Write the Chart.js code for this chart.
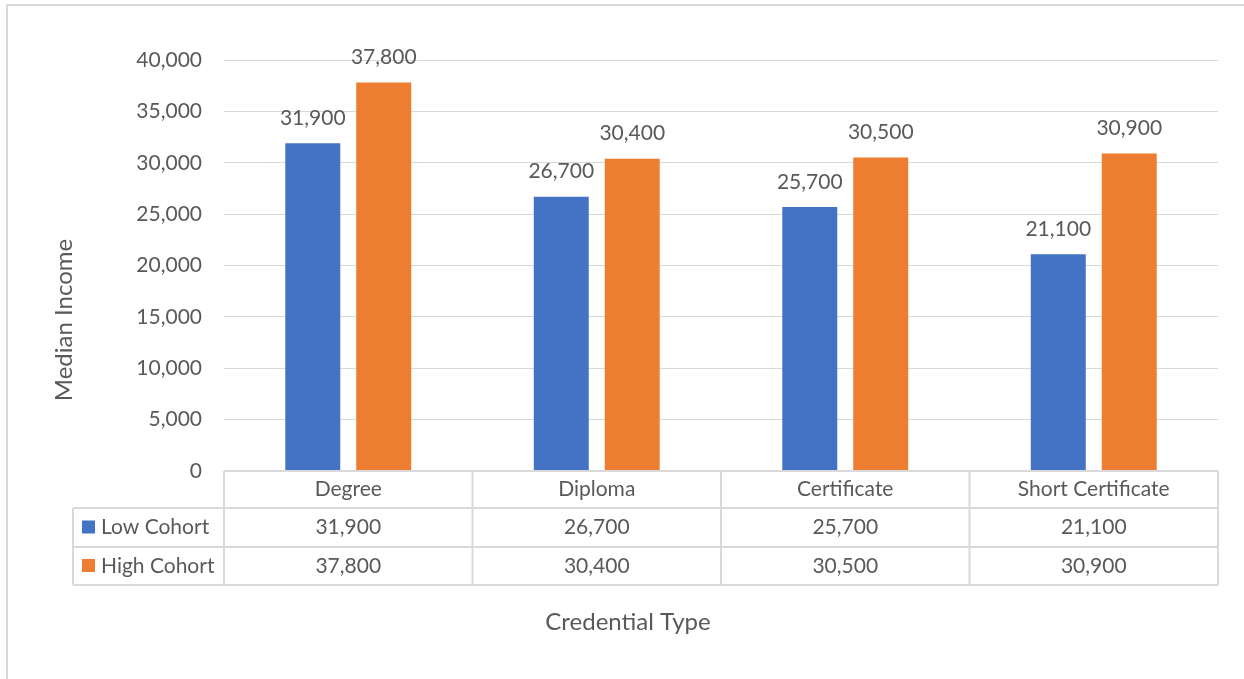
<!DOCTYPE html>
<html>
<head>
<meta charset="utf-8">
<script src="https://cdn.jsdelivr.net/npm/chart.js@4.4.1/dist/chart.umd.min.js"></script>
<style>
  html, body { margin: 0; padding: 0; background: #ffffff; }
  #wrap { width: 1244px; height: 679px; position: relative; }
</style>
</head>
<body>
<div id="wrap"><canvas id="chart" width="1244" height="679"></canvas></div>
<script>
// Median income by credential type for two cohorts
const categories = ['Degree', 'Diploma', 'Certificate', 'Short Certificate'];
const seriesNames = ['Low Cohort', 'High Cohort'];
const lowCohort = [31900, 26700, 25700, 21100];
const highCohort = [37800, 30400, 30500, 30900];
const yTickMin = 0;
const yTickMax = 40000;
const yTickStep = 5000;
const xTitle = 'Credential Type';
const yTitle = 'Median Income';

const seriesColors = ['#4472C4', '#ED7D31'];
const textColor = '#595959';
const lineColor = '#d9d9d9';
const fontFamily = 'Lato, "Open Sans", sans-serif';
const fontSize = 21;
const titleSize = 24;

const fmt = v => v.toLocaleString('en-US');

// Value labels above each bar
const valueLabels = {
  id: 'valueLabels',
  afterDatasetsDraw(chart) {
    const ctx = chart.ctx;
    ctx.save();
    ctx.font = fontSize + 'px ' + fontFamily;
    ctx.fillStyle = textColor;
    ctx.textAlign = 'center';
    ctx.textBaseline = 'middle';
    chart.data.datasets.forEach((ds, di) => {
      chart.getDatasetMeta(di).data.forEach((bar, i) => {
        ctx.fillText(fmt(ds.data[i]), bar.x, bar.y - 25);
      });
    });
    ctx.restore();
  }
};

// Data table under the plot: grid, legend keys, values, plus axis titles and frame
const dataTable = {
  id: 'dataTable',
  beforeDraw(chart) {
    const ctx = chart.ctx;
    ctx.save();
    ctx.strokeStyle = lineColor;
    ctx.lineWidth = 2;
    ctx.strokeRect(7, 5, 1400, 900);
    ctx.restore();
  },
  afterDraw(chart) {
    const ctx = chart.ctx;
    const x = chart.scales.x;
    const area = chart.chartArea;
    const n = categories.length;
    const colW = (x.right - x.left) / n;
    const rowTop = area.bottom;
    const rowH = [37, 39, 38];
    const r1 = rowTop + rowH[0];
    const r2 = r1 + rowH[1];
    const r3 = r2 + rowH[2];
    const legendLeft = 73;

    ctx.save();
    ctx.strokeStyle = lineColor;
    ctx.lineWidth = 2;
    ctx.beginPath();
    // horizontal rules
    ctx.moveTo(x.left, rowTop); ctx.lineTo(x.right, rowTop);
    [r1, r2, r3].forEach(y => { ctx.moveTo(legendLeft, y); ctx.lineTo(x.right, y); });
    // vertical rules
    for (let i = 0; i <= n; i++) {
      const px = x.left + i * colW;
      ctx.moveTo(px, rowTop); ctx.lineTo(px, r3);
    }
    ctx.moveTo(legendLeft, r1); ctx.lineTo(legendLeft, r3);
    ctx.stroke();

    ctx.font = fontSize + 'px ' + fontFamily;
    ctx.fillStyle = textColor;
    ctx.textBaseline = 'middle';
    const rows = [lowCohort, highCohort];
    const rowMid = [(r1 + r2) / 2, (r2 + r3) / 2];
    rows.forEach((vals, ri) => {
      ctx.textAlign = 'center';
      ctx.fillStyle = textColor;
      vals.forEach((v, i) => {
        ctx.fillText(fmt(v), x.getPixelForValue(i), rowMid[ri]);
      });
      // legend key + series name
      ctx.fillStyle = seriesColors[ri];
      ctx.fillRect(legendLeft + 9, rowMid[ri] - 7, 13, 13);
      ctx.fillStyle = textColor;
      ctx.textAlign = 'left';
      ctx.fillText(seriesNames[ri], legendLeft + 28, rowMid[ri]);
    });

    // axis titles
    ctx.font = titleSize + 'px ' + fontFamily;
    ctx.textAlign = 'center';
    ctx.fillText(xTitle, 628, 622);
    ctx.translate(64, 320);
    ctx.rotate(-Math.PI / 2);
    ctx.fillText(yTitle, 0, 0);
    ctx.restore();
  }
};

new Chart(document.getElementById('chart'), {
  type: 'bar',
  data: {
    labels: categories,
    datasets: [
      { label: seriesNames[0], data: lowCohort, backgroundColor: seriesColors[0],
        barPercentage: 0.775, categoryPercentage: 0.571 },
      { label: seriesNames[1], data: highCohort, backgroundColor: seriesColors[1],
        barPercentage: 0.775, categoryPercentage: 0.571 }
    ]
  },
  options: {
    responsive: false,
    animation: false,
    layout: { padding: { left: 50, top: 60, right: 26, bottom: 0 } },
    plugins: {
      legend: { display: false },
      tooltip: { enabled: false }
    },
    scales: {
      x: {
        grid: { display: false, drawTicks: false },
        border: { display: false },
        ticks: { color: textColor, font: { family: fontFamily, size: fontSize }, padding: 6, maxRotation: 0 },
        afterFit(s) { s.height = 208; }
      },
      y: {
        min: yTickMin,
        max: yTickMax,
        border: { display: false },
        grid: { color: lineColor, lineWidth: 1, drawTicks: false },
        ticks: {
          stepSize: yTickStep,
          color: textColor,
          padding: 22,
          font: { family: fontFamily, size: fontSize },
          callback: v => fmt(v)
        },
        afterFit(s) { s.width = 174; }
      }
    }
  },
  plugins: [valueLabels, dataTable]
});
</script>
</body>
</html>
